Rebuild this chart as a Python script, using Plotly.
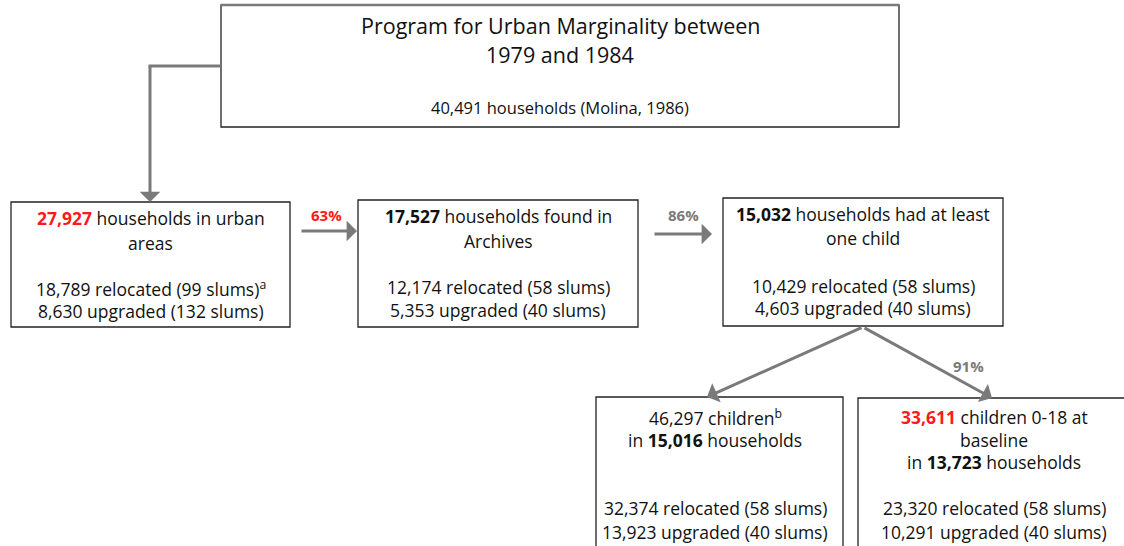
import plotly.graph_objects as go

# ---------------- data ----------------
title_lines = ["Program for Urban Marginality between", "1979 and 1984"]
total_households = 40491
total_source = "Molina, 1986"

stage_households = [27927, 17527, 15032]
stage_desc_line1 = ["households in urban", "households found in", "households had at least"]
stage_desc_line2 = ["areas", "Archives", "one child"]
stage_highlight = ["red", "bold", "bold"]
stage_relocated = [18789, 12174, 10429]
stage_relocated_slums = [99, 58, 58]
stage_upgraded = [8630, 5353, 4603]
stage_upgraded_slums = [132, 40, 40]

transition_pct = [63, 86, 91]

children_total = 46297
children_households = 15016
children_relocated = 32374
children_upgraded = 13923

baseline_children = 33611
baseline_households = 13723
baseline_relocated = 23320
baseline_upgraded = 10291
slums_relocated = 58
slums_upgraded = 40

# ---------------- styles / layout ----------------
FONT = "Open Sans"
TXT = "#111111"
RED = "#ff1a1a"
ARROW = "#7a7a7a"
BOX_LINE = "#222222"
W, H = 1124, 546
BODY = 17.5

fig = go.Figure()
fig.add_trace(go.Scatter(x=[0, W], y=[0, H], mode="markers", marker=dict(opacity=0),
                         hoverinfo="skip", showlegend=False))

def box(x0, y0, x1, y1):
    fig.add_shape(type="rect", x0=x0, y0=y0, x1=x1, y1=y1, line=dict(color=BOX_LINE, width=1.3),
                  fillcolor="white", layer="below")

def text(x, y, s, size=BODY, color=TXT):
    fig.add_annotation(x=x, y=y, text=s, showarrow=False, xanchor="center", yanchor="middle",
                       font=dict(family=FONT, size=size, color=color))

def arrow(x0, y0, x1, y1):
    fig.add_annotation(x=x1, y=y1, ax=x0, ay=y0, xref="x", yref="y", axref="x", ayref="y", text="",
                       showarrow=True, arrowhead=1, arrowsize=1.15, arrowwidth=3, arrowcolor=ARROW, standoff=0)

def fmt(n):
    return f"{n:,}"

# top box
box(221, 5, 899, 127)
fig.add_shape(type="line", x0=221, y0=5, x1=899, y1=5, line=dict(color=ARROW, width=2.5))
text(560, 25, title_lines[0], size=21.5)
text(560, 54, title_lines[1], size=21.5)
text(560, 107, f"{fmt(total_households)} households ({total_source})", size=16.5)

# elbow connector
fig.add_shape(type="line", x0=221, y0=66, x1=148.5, y1=66, line=dict(color=ARROW, width=3))
arrow(150, 64.5, 150, 202)

# stage boxes
stage_boxes = [(11, 202, 290, 327), (358, 200, 638, 327), (723, 198, 1003, 326)]
line_ys = [(218, 243, 288, 311), (216, 241, 287, 310), (214, 238, 286, 308)]
for i in range(3):
    x0, y0, x1, y1 = stage_boxes[i]
    box(x0, y0, x1, y1)
    cx = (x0 + x1) / 2
    ly = line_ys[i]
    num = fmt(stage_households[i])
    if stage_highlight[i] == "red":
        num_s = f"<b><span style='color:{RED}'>{num}</span></b>"
    else:
        num_s = f"<b>{num}</b>"
    text(cx, ly[0], f"{num_s} {stage_desc_line1[i]}")
    text(cx, ly[1], stage_desc_line2[i])
    sup = "<sup>a</sup>" if i == 0 else ""
    text(cx, ly[2], f"{fmt(stage_relocated[i])} relocated ({stage_relocated_slums[i]} slums){sup}")
    text(cx, ly[3], f"{fmt(stage_upgraded[i])} upgraded ({stage_upgraded_slums[i]} slums)")

# horizontal transitions
arrow(300, 231, 357, 231)
text(326, 215, f"<b>{transition_pct[0]}%</b>", size=15, color=RED)
arrow(653, 234, 712, 234)
text(683, 215, f"<b>{transition_pct[1]}%</b>", size=15, color=ARROW)

# diagonal transitions
arrow(863, 327, 707, 397)
arrow(863, 327, 992, 398)
text(968, 366, f"<b>{transition_pct[2]}%</b>", size=15, color=ARROW)

# bottom boxes
box(596, 397, 843, 560)
cx = 715
text(cx, 417, f"{fmt(children_total)} children<sup>b</sup>")
text(cx, 440, f"in <b>{fmt(children_households)}</b> households")
text(cx, 508, f"{fmt(children_relocated)} relocated ({slums_relocated} slums)")
text(cx, 532, f"{fmt(children_upgraded)} upgraded ({slums_upgraded} slums)")

box(858, 398, 1130, 560)
cx = 994
text(cx, 417, f"<b><span style='color:{RED}'>{fmt(baseline_children)}</span></b> children 0-18 at")
text(cx, 440, "baseline")
text(cx, 462, f"in <b>{fmt(baseline_households)}</b> households")
text(cx, 508, f"{fmt(baseline_relocated)} relocated ({slums_relocated} slums)")
text(cx, 532, f"{fmt(baseline_upgraded)} upgraded ({slums_upgraded} slums)")

fig.update_layout(
    width=W, height=H, margin=dict(l=0, r=0, t=0, b=0),
    paper_bgcolor="white", plot_bgcolor="white",
    xaxis=dict(range=[0, W], visible=False, fixedrange=True),
    yaxis=dict(range=[H, 0], visible=False, fixedrange=True),
    showlegend=False,
)

fig.write_html("out.html", config={"displayModeBar": False},
               post_script="document.body.style.margin='0';document.body.style.overflow='hidden';")
